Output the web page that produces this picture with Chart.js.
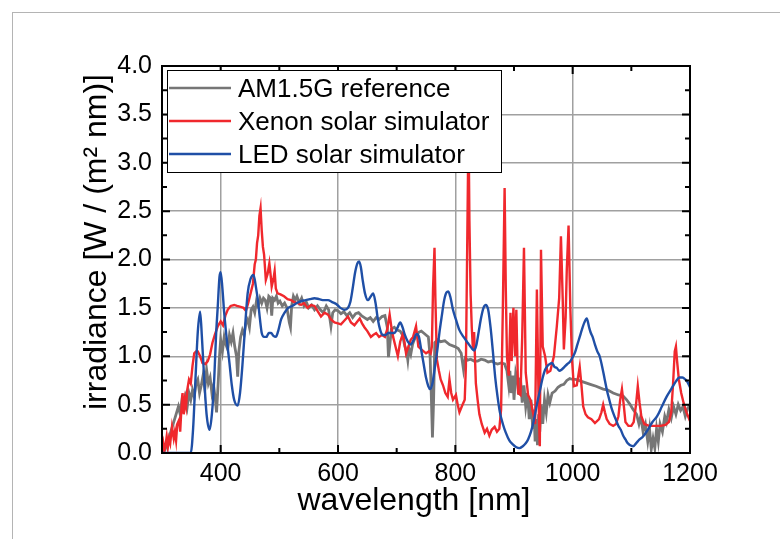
<!DOCTYPE html>
<html lang="en">
<head>
<meta charset="UTF-8">
<title>Solar simulator spectra</title>
<script src="https://cdn.jsdelivr.net/npm/chart.js"></script>
<style>
    body { margin: 0; background: #fff; }
    .wrap { position: relative; width: 780px; height: 539px; overflow: hidden; }
    .frame { position: absolute; left: 12px; top: 12px; width: 800px; height: 560px;
             border-left: 1px solid #b4b4b4; border-top: 1px solid #b4b4b4; }
    canvas { position: absolute; left: 0; top: 0; }
</style>
</head>
<body>
<div class="wrap">
    <div class="frame"></div>
    <canvas id="chart" width="780" height="539"></canvas>
</div>
<script>
// AM1.5G reference spectrum
const amX = [300,305,310,315,320,325,328,331,334,337,340,343,346,349,352,355,358,361,364,367,370,373,376,379,382,385,388,391,393,396,398,
    400,403,406,409,412,415,418,421,424,427,429,431,434,437,440,443,446,449,452,455,458,461,464,467,470,473,476,479,482,485,487,489,492,495,498,
    501,505,509,513,517,519,521,524,527,530,534,538,542,546,550,555,560,565,570,575,580,584,588,591,595,
    600,605,610,615,620,625,630,635,640,645,650,655,660,665,670,675,680,684,686,688,691,696,
    701,706,710,714,717,719,721,724,727,730,734,738,742,746,750,754,757,759,761,763,765,770,775,782,790,799,
    805,810,814,817,821,826,832,838,844,850,856,862,867,872,878,884,888,891,893,895,898,
    900,903,906,908,911,914,917,920,923,926,929,932,934,936,938,940,942,944,946,949,952,955,958,961,965,970,975,980,985,990,995,
    1000,1005,1010,1020,1030,1040,1052,1060,1069,1078,1086,1092,1098,
    1103,1109,1113,1116,1120,1124,1128,1131,1134,1137,1140,1143,1146,1149,1153,1157,1160,1164,1168,1172,1176,1180,1184,1188,1192,1196,1200];
const amY = [0.00,0.03,0.12,0.22,0.32,0.42,0.48,0.40,0.55,0.50,0.58,0.48,0.62,0.55,0.65,0.58,0.72,0.76,0.62,0.70,0.80,0.66,0.86,0.72,0.78,0.62,0.70,0.55,0.42,0.75,1.00,
    1.17,1.05,1.20,1.12,1.07,1.22,1.15,1.24,1.10,1.00,0.79,1.05,1.20,1.27,1.22,1.34,1.38,1.30,1.48,1.51,1.45,1.57,1.52,1.60,1.55,1.60,1.58,1.50,1.62,1.60,1.42,1.60,1.58,1.62,1.55,
    1.57,1.52,1.55,1.50,1.35,1.30,1.52,1.62,1.58,1.62,1.55,1.60,1.52,1.56,1.50,1.53,1.48,1.52,1.48,1.45,1.52,1.48,1.31,1.45,1.48,
    1.47,1.44,1.46,1.42,1.45,1.40,1.44,1.45,1.42,1.40,1.38,1.40,1.36,1.40,1.38,1.41,1.42,1.30,0.99,1.10,1.28,1.30,
    1.27,1.26,1.22,1.10,1.05,0.96,1.08,1.02,1.12,1.17,1.22,1.25,1.26,1.24,1.22,1.20,1.00,0.60,0.16,0.55,1.14,1.17,1.15,1.16,1.12,1.10,
    1.08,1.03,0.86,0.98,0.96,0.97,0.95,0.95,0.97,0.96,0.94,0.95,0.93,0.92,0.93,0.92,0.85,0.70,0.85,0.62,0.80,
    0.55,0.83,0.75,0.60,0.78,0.52,0.70,0.48,0.62,0.35,0.55,0.25,0.45,0.12,0.35,0.08,0.40,0.22,0.50,0.30,0.55,0.42,0.60,0.52,0.62,0.64,0.68,0.70,0.71,0.75,0.77,
    0.76,0.76,0.75,0.73,0.71,0.69,0.66,0.65,0.62,0.60,0.59,0.55,0.50,
    0.45,0.40,0.30,0.38,0.22,0.30,0.12,0.25,0.04,0.15,0.05,0.25,0.12,0.30,0.22,0.38,0.32,0.45,0.36,0.48,0.40,0.50,0.44,0.48,0.38,0.46,0.50];

// Xenon solar simulator
const xeX = [300,302,304,306,308,310,312,314,317,320,322,324,326,329,331,333,335,337,339,341,343,346,349,352,355,358,361,365,369,374,378,382,386,390,395,
    400,404,408,412,417,423,428,434,439,443,447,451,455,458,460,462,464,466,468,470,472,474,477,480,483,485,487,490,492,494,497,
    502,508,514,520,525,531,537,542,548,554,560,565,571,577,583,588,594,
    600,605,611,617,622,628,633,637,641,645,650,656,660,665,670,675,680,684,688,691,694,698,
    702,706,711,716,720,724,728,733,737,742,746,750,755,758,760,762,764.5,766,768.5,772,775,779,783,787,790,793,796,
    801,804,807,811,816,818,820,822.5,824,826,828,830,832,835,838,841,845,850,854,858,862,867,871,875,878,881,884,886,888,891,894,896,899,
    902,904,907,911,914,917,920,924,928,933,936,939,942,944,946,949,953,957,962,968,973,977,980,983,985,988,990,993,996,999,
    1002,1007,1012,1015,1018,1022,1026,1032,1038,1045,1049,1052,1055,1058,1063,1069,1074,1078,1081,1084,1087,1090,1095,
    1100,1104,1108,1111,1114,1117,1122,1130,1140,1150,1158,1164,1168,1171,1174,1176,1178,1181,1185,1189,1194,1200];
const xeY = [0.05,0.11,0.02,0.08,0.17,0.06,0.15,0.10,0.27,0.15,0.22,0.13,0.30,0.34,0.22,0.45,0.62,0.40,0.55,0.48,0.65,0.76,0.72,0.90,1.03,1.05,1.05,1.00,0.93,0.92,0.95,1.02,1.14,1.22,1.31,
    1.36,1.32,1.42,1.48,1.52,1.53,1.52,1.51,1.50,1.47,1.55,1.65,1.75,1.95,2.00,2.17,2.25,2.45,2.53,2.30,2.13,2.05,1.79,1.85,1.96,1.85,1.72,1.80,1.88,1.70,1.65,
    1.64,1.62,1.59,1.58,1.56,1.55,1.53,1.55,1.50,1.53,1.52,1.47,1.41,1.45,1.43,1.38,1.35,
    1.34,1.33,1.37,1.41,1.35,1.32,1.36,1.39,1.34,1.30,1.26,1.20,1.22,1.24,1.20,1.22,1.20,1.28,1.43,1.30,1.20,1.10,
    1.00,1.15,1.24,1.03,1.10,1.17,1.20,1.31,1.10,1.07,1.05,1.03,1.05,1.03,1.10,1.70,2.12,1.60,0.97,0.85,0.76,0.70,0.62,0.58,0.76,0.62,0.55,
    0.60,0.50,0.42,0.48,0.55,0.90,2.00,3.40,2.40,1.65,1.30,1.07,1.25,0.72,0.55,0.40,0.30,0.21,0.25,0.18,0.24,0.27,0.22,0.25,0.45,1.50,2.74,1.70,1.00,0.80,1.45,0.95,1.50,
    1.00,1.48,0.62,0.60,1.20,2.12,0.83,0.60,0.55,0.40,0.30,1.69,0.50,0.07,2.10,1.10,1.00,0.83,0.85,1.00,1.31,1.60,2.24,1.60,1.07,1.40,1.90,2.35,1.50,0.96,
    0.69,0.70,0.89,0.70,0.48,0.40,0.37,0.35,0.31,0.35,0.42,0.50,0.42,0.35,0.30,0.28,0.30,0.38,0.55,0.66,0.50,0.32,0.28,
    0.28,0.32,0.50,0.69,0.52,0.38,0.30,0.28,0.28,0.28,0.29,0.32,0.42,0.70,1.05,1.10,0.95,0.76,0.62,0.52,0.42,0.33];

// LED solar simulator
const ledX = [300,349,353,357,361,365,368,372,376,381,385,389,392,395,398,
    400,403,406,410,415,419,423,429,433,437,441,446,451,456,460,464,467,470,474,478,482,486,490,494,498,
    503,509,515,522,530,537,545,552,560,568,576,583,590,597,
    604,611,617,621,625,629,633,636,639,642,646,651,656,660,664,668,672,676,681,686,691,696,
    701,706,710,714,719,724,729,734,738,742,746,750,754,757,761,765,769,773,777,781,785,788,792,796,
    801,807,814,821,827,832,836,840,844,848,852,856,860,864,868,872,876,881,886,892,898,
    904,909,915,920,924,929,934,939,944,949,953,957,961,965,969,973,977,981,986,991,995,
    1000,1004,1008,1012,1016,1020,1024,1028,1031,1034,1038,1042,1046,1050,1054,1058,1062,1066,1070,1074,1078,1082,1086,1090,1094,1098,
    1103,1108,1114,1120,1128,1136,1144,1152,1160,1168,1176,1182,1187,1192,1196,1200];
const ledY = [0,0,0.25,0.76,1.25,1.46,1.20,0.76,0.40,0.24,0.40,0.76,1.20,1.51,1.82,
    1.87,1.70,1.45,1.20,0.93,0.70,0.55,0.49,0.62,0.90,1.25,1.65,1.80,1.84,1.72,1.55,1.38,1.24,1.20,1.20,1.24,1.24,1.21,1.20,1.26,
    1.38,1.45,1.50,1.52,1.55,1.57,1.58,1.59,1.60,1.59,1.58,1.58,1.56,1.54,
    1.50,1.48,1.50,1.56,1.70,1.86,1.96,1.98,1.92,1.79,1.65,1.58,1.62,1.65,1.55,1.38,1.27,1.22,1.22,1.24,1.24,1.24,
    1.29,1.35,1.30,1.22,1.15,1.12,1.17,1.23,1.20,1.06,0.92,0.78,0.69,0.66,0.72,0.88,1.05,1.25,1.42,1.58,1.66,1.67,1.60,1.48,
    1.38,1.27,1.20,1.14,1.09,1.06,1.12,1.26,1.40,1.50,1.53,1.48,1.30,1.05,0.78,0.58,0.42,0.30,0.21,0.13,0.09,
    0.06,0.05,0.07,0.10,0.14,0.22,0.34,0.50,0.64,0.78,0.86,0.90,0.92,0.93,0.89,0.88,0.85,0.86,0.89,0.92,0.94,
    0.99,1.04,1.12,1.20,1.28,1.35,1.39,1.30,1.24,1.20,1.12,1.05,1.00,0.90,0.78,0.66,0.56,0.47,0.40,0.34,0.28,0.24,0.18,0.14,0.10,0.08,
    0.07,0.10,0.14,0.17,0.24,0.32,0.38,0.48,0.58,0.66,0.74,0.78,0.78,0.76,0.73,0.68];

const seriesNames = ['AM1.5G reference', 'Xenon solar simulator', 'LED solar simulator'];
const seriesColors = ['#767676', '#f0282d', '#1f4fa6'];

const xTicks = [400, 600, 800, 1000, 1200];
const xMinor = [300, 500, 700, 900, 1100];
const yTicks = [0, 0.5, 1, 1.5, 2, 2.5, 3, 3.5, 4];
const yMinor = [0.25, 0.75, 1.25, 1.75, 2.25, 2.75, 3.25, 3.75];

function toPoints(xs, ys) {
    return xs.map((v, i) => ({ x: v, y: ys[i] }));
}

const decorations = {
    id: 'decorations',
    afterDatasetsDraw(chart) {
        const ctx = chart.ctx;
        const a = chart.chartArea;
        const x = chart.scales.x, y = chart.scales.y;
        ctx.save();

        // frame and inward ticks
        ctx.strokeStyle = '#000';
        ctx.lineWidth = 2;
        ctx.strokeRect(a.left, a.top, a.right - a.left, a.bottom - a.top);
        ctx.beginPath();
        xTicks.concat(xMinor).forEach(v => {
            const px = x.getPixelForValue(v);
            const len = xTicks.includes(v) ? 8 : 5;
            ctx.moveTo(px, a.bottom); ctx.lineTo(px, a.bottom - len);
            ctx.moveTo(px, a.top); ctx.lineTo(px, a.top + len);
        });
        yTicks.concat(yMinor).forEach(v => {
            const py = y.getPixelForValue(v);
            const len = yTicks.includes(v) ? 8 : 5;
            ctx.moveTo(a.left, py); ctx.lineTo(a.left + len, py);
            ctx.moveTo(a.right, py); ctx.lineTo(a.right - len, py);
        });
        ctx.stroke();

        // legend
        ctx.fillStyle = '#fff';
        ctx.fillRect(167, 70, 334, 102);
        ctx.strokeStyle = '#000';
        ctx.lineWidth = 1;
        ctx.strokeRect(167.5, 70.5, 334, 102);
        ctx.font = '26px Arial, "Liberation Sans", sans-serif';
        ctx.textBaseline = 'alphabetic';
        ctx.textAlign = 'left';
        chart.data.datasets.forEach((ds, i) => {
            const ly = 88 + i * 33;
            ctx.strokeStyle = ds.borderColor;
            ctx.lineWidth = 2.5;
            ctx.beginPath();
            ctx.moveTo(169, ly); ctx.lineTo(231, ly);
            ctx.stroke();
            ctx.fillStyle = '#000';
            ctx.fillText(ds.label, 238, ly + 9);
        });

        // axis titles
        ctx.fillStyle = '#000';
        ctx.font = '32px Arial, "Liberation Sans", sans-serif';
        ctx.textAlign = 'center';
        ctx.fillText('wavelength [nm]', 414, 510);
        ctx.translate(106, 242);
        ctx.rotate(-Math.PI / 2);
        ctx.fillText('irradiance [W / (m\u00b2 nm)]', 0, 0);
        ctx.restore();
    }
};

const tickFont = { family: 'Arial, "Liberation Sans", sans-serif', size: 25 };

new Chart(document.getElementById('chart'), {
    type: 'line',
    data: {
        datasets: [
            { label: seriesNames[0], data: toPoints(amX, amY), borderColor: seriesColors[0],
              borderWidth: 2.8, pointRadius: 0, tension: 0, order: 2 },
            { label: seriesNames[1], data: toPoints(xeX, xeY), borderColor: seriesColors[1],
              borderWidth: 2.4, pointRadius: 0, tension: 0, order: 1 },
            { label: seriesNames[2], data: toPoints(ledX, ledY), borderColor: seriesColors[2],
              borderWidth: 2.4, pointRadius: 0, cubicInterpolationMode: 'monotone', order: 0 }
        ]
    },
    options: {
        responsive: false,
        animation: false,
        events: [],
        layout: { padding: { top: 66, right: 90, bottom: 0, left: 0 } },
        plugins: { legend: { display: false }, tooltip: { enabled: false } },
        scales: {
            x: {
                type: 'linear', min: 300, max: 1200,
                afterBuildTicks: s => { s.ticks = xTicks.map(v => ({ value: v })); },
                afterFit: s => { s.height = 86; },
                grid: { color: '#a0a0a0', lineWidth: 1.5, drawTicks: false },
                border: { display: false },
                ticks: { font: tickFont, color: '#000', padding: 6, autoSkip: false, maxRotation: 0,
                         callback: v => String(v) }
            },
            y: {
                type: 'linear', min: 0, max: 4,
                afterBuildTicks: s => { s.ticks = yTicks.map(v => ({ value: v })); },
                afterFit: s => { s.width = 162; },
                grid: { color: '#a0a0a0', lineWidth: 1.5, drawTicks: false },
                border: { display: false },
                ticks: { font: tickFont, color: '#000', padding: 10, callback: v => v.toFixed(1) }
            }
        }
    },
    plugins: [decorations]
});
</script>
</body>
</html>
